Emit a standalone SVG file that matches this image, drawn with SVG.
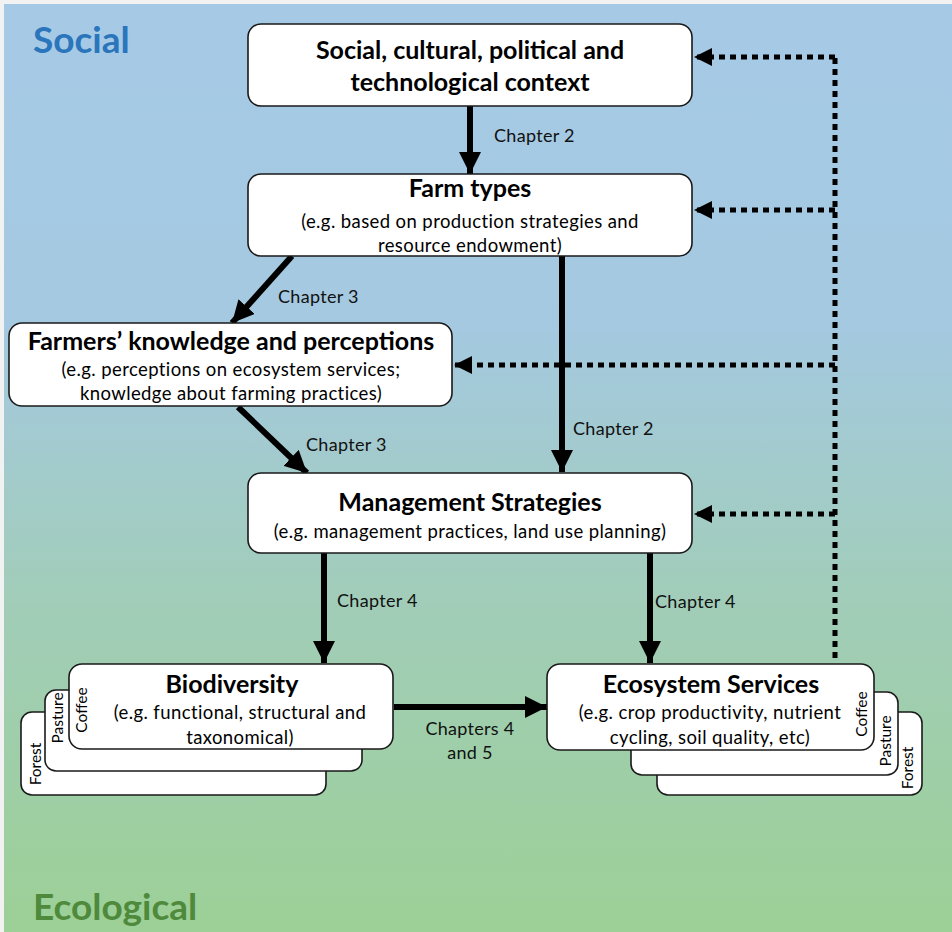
<svg xmlns="http://www.w3.org/2000/svg" width="952" height="932" viewBox="0 0 952 932">
<defs>
<linearGradient id="bg" x1="0" y1="0" x2="0" y2="1">
<stop offset="0" stop-color="#a6cae6"/>
<stop offset="0.35" stop-color="#a4c9e0"/>
<stop offset="0.65" stop-color="#a1cdb8"/>
<stop offset="1" stop-color="#9cd096"/>
</linearGradient>
<marker id="ah" viewBox="0 0 20 20" refX="20" refY="10" markerWidth="22" markerHeight="22" markerUnits="userSpaceOnUse" orient="auto">
<path d="M0,0 L20,10 L0,20 Z" fill="#000"/>
</marker>
<marker id="ahd" viewBox="0 0 20 20" refX="20" refY="10" markerWidth="18" markerHeight="18" markerUnits="userSpaceOnUse" orient="auto">
<path d="M0,0 L20,10 L0,20 Z" fill="#000"/>
</marker>
</defs>
<style>
.box{fill:#fff;stroke:#1a1a1a;stroke-width:1.6}
.t{font-family:Lato,"Liberation Sans",sans-serif;font-weight:bold;font-size:25px;fill:#000;text-anchor:middle}
.s{font-family:Lato,"Liberation Sans",sans-serif;font-size:18.5px;letter-spacing:0.4px;fill:#000;text-anchor:middle}
.c{font-family:Lato,"Liberation Sans",sans-serif;font-size:18px;letter-spacing:0.3px;fill:#111}
.r{font-family:Lato,"Liberation Sans",sans-serif;font-size:15.5px;fill:#000;text-anchor:middle}
.a{stroke:#000;stroke-width:6;fill:none;marker-end:url(#ah)}
.d{stroke:#000;stroke-width:5;fill:none;stroke-dasharray:6 5}
.da{stroke:#000;stroke-width:5;fill:none;stroke-dasharray:6 5;marker-end:url(#ahd)}
</style>
<rect x="0" y="0" width="952" height="932" fill="#f2f2f2"/>
<rect x="4" y="4" width="948" height="928" fill="url(#bg)"/>
<text x="33" y="53" font-family="Lato,'Liberation Sans',sans-serif" font-weight="bold" font-size="37" fill="#2a75bb">Social</text>
<text x="33" y="920" font-family="Lato,'Liberation Sans',sans-serif" font-weight="bold" font-size="37" fill="#4f8a3c">Ecological</text>

<g id="connectors">
<line class="a" x1="470" y1="106" x2="470" y2="174"/>
<line class="a" x1="292" y1="256" x2="232" y2="323"/>
<line class="a" x1="562" y1="256" x2="562" y2="472"/>
<line class="a" x1="238" y1="407" x2="307" y2="473"/>
<line class="a" x1="324" y1="553" x2="324" y2="663"/>
<line class="a" x1="650" y1="553" x2="650" y2="663"/>
<line class="a" x1="394" y1="707" x2="547" y2="707"/>
<line class="d" x1="835" y1="658" x2="835" y2="57"/>
<line class="da" x1="835" y1="57" x2="694" y2="57"/>
<line class="da" x1="835" y1="210" x2="694" y2="210"/>
<line class="da" x1="835" y1="365" x2="454" y2="365"/>
<line class="da" x1="835" y1="514" x2="694" y2="514"/>
<text class="c" x="494" y="142">Chapter 2</text>
<text class="c" x="278" y="303">Chapter 3</text>
<text class="c" x="306" y="451">Chapter 3</text>
<text class="c" x="573" y="435">Chapter 2</text>
<text class="c" x="337" y="607">Chapter 4</text>
<text class="c" x="655" y="608">Chapter 4</text>
<text class="c" x="470" y="735" text-anchor="middle">Chapters 4</text>
<text class="c" x="470" y="759" text-anchor="middle">and 5</text>
</g>

<g id="context">
<rect class="box" x="248" y="24" width="444" height="82" rx="13"/>
<text class="t" x="470" y="59">Social, cultural, political and</text>
<text class="t" x="470" y="91">technological context</text>
</g>
<g id="farmtypes">
<rect class="box" x="248" y="174" width="444" height="82" rx="13"/>
<text class="t" x="470" y="197">Farm types</text>
<text class="s" x="470" y="228">(e.g. based on production strategies and</text>
<text class="s" x="470" y="252">resource endowment)</text>
</g>
<g id="farmers">
<rect class="box" x="9" y="323" width="443" height="83" rx="13"/>
<text class="t" x="231" y="350">Farmers’ knowledge and perceptions</text>
<text class="s" x="231" y="376">(e.g. perceptions on ecosystem services;</text>
<text class="s" x="231" y="400">knowledge about farming practices)</text>
</g>
<g id="management">
<rect class="box" x="248" y="473" width="444" height="80" rx="13"/>
<text class="t" x="470" y="511">Management Strategies</text>
<text class="s" x="470" y="538">(e.g. management practices, land use planning)</text>
</g>
<g id="biodiversity">
<rect class="box" x="21" y="712" width="305" height="83" rx="11"/>
<rect class="box" x="45" y="690" width="317" height="81" rx="11"/>
<rect class="box" x="69" y="664" width="324" height="85" rx="13"/>
<text class="r" transform="translate(41,764) rotate(-90)">Forest</text>
<text class="r" transform="translate(63,718) rotate(-90)">Pasture</text>
<text class="r" transform="translate(87,710) rotate(-90)">Coffee</text>
<text class="t" x="232" y="693">Biodiversity</text>
<text class="s" x="240" y="719">(e.g. functional, structural and</text>
<text class="s" x="240" y="744">taxonomical)</text>
</g>
<g id="ecosystem">
<rect class="box" x="657" y="712" width="265" height="83" rx="11"/>
<rect class="box" x="631" y="692" width="267" height="83" rx="11"/>
<rect class="box" x="547" y="664" width="327" height="86" rx="13"/>
<text class="r" transform="translate(867,714) rotate(-90)">Coffee</text>
<text class="r" transform="translate(891,741) rotate(-90)">Pasture</text>
<text class="r" transform="translate(913,768) rotate(-90)">Forest</text>
<text class="t" x="711" y="693">Ecosystem Services</text>
<text class="s" x="710" y="719">(e.g. crop productivity, nutrient</text>
<text class="s" x="710" y="744">cycling, soil quality, etc)</text>
</g>
</svg>
